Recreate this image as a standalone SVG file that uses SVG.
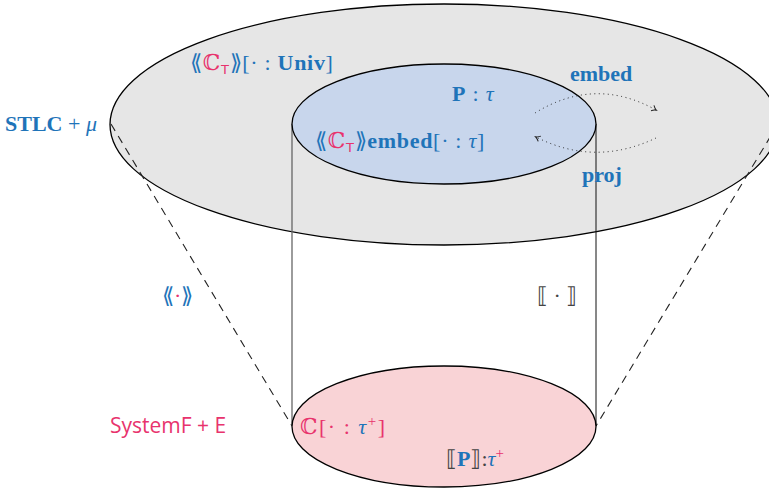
<svg xmlns="http://www.w3.org/2000/svg" width="769" height="491" viewBox="0 0 769 491">
<style>
.t{font-family:"Liberation Serif","DejaVu Serif",serif;font-size:22px;fill:#1f74b9}
.b{font-weight:bold}
.i{font-style:italic}
.pk{fill:#e8336d}
.dk{fill:#444}
.sans{font-family:"Linux Biolinum","Open Sans","DejaVu Sans",sans-serif;fill:#e8336d;font-size:21px}
.sub{font-family:"DejaVu Sans",sans-serif;font-size:13px}
.dash{stroke:#222;stroke-width:1.1;fill:none;stroke-dasharray:8 6}
.dot{stroke:#222;stroke-width:1;fill:none;stroke-dasharray:1 3.5}
</style>
<defs>
<marker id="ah" markerWidth="8" markerHeight="8" refX="5" refY="4" orient="auto" markerUnits="userSpaceOnUse">
<path d="M1,1 Q3,3.2 5.5,4 Q3,4.8 1,7" fill="none" stroke="#222" stroke-width="1"/>
</marker>
</defs>
<rect width="769" height="491" fill="#fff"/>
<g id="outer">
<ellipse cx="444" cy="124.5" rx="334" ry="120.5" fill="#e6e6e6" stroke="#000" stroke-width="1.3"/>
</g>
<g id="connectors">
<line class="dash" x1="111" y1="124" x2="292" y2="426"/>
<line class="dash" x1="778" y1="124" x2="596" y2="426"/>
<line x1="292" y1="124" x2="292" y2="426" stroke="#666" stroke-width="1.3"/>
<line x1="596" y1="124" x2="596" y2="426" stroke="#111" stroke-width="1"/>
</g>
<g id="inner">
<ellipse cx="444" cy="124" rx="152" ry="60" fill="#c8d6ec" stroke="#000" stroke-width="1.3"/>
</g>
<g id="bottom">
<ellipse cx="444" cy="426.5" rx="152" ry="60.5" fill="#f9d3d6" stroke="#000" stroke-width="1.3"/>
</g>
<g id="arrows">
<path class="dot" d="M535,113 Q595,76 656,110" marker-end="url(#ah)"/>
<path class="dot" d="M656,138 Q595,167 536,137" marker-end="url(#ah)"/>
</g>
<g id="labels">
<text class="t" x="190" y="70" letter-spacing="0.7">⟪<tspan class="pk">ℂ</tspan><tspan class="pk sub" dy="4">T</tspan><tspan dy="-4">⟫[· : </tspan><tspan class="b">Univ</tspan>]</text>
<text class="t" x="452" y="101" letter-spacing="0.8"><tspan class="b">P</tspan> : <tspan class="i">τ</tspan></text>
<text class="t" x="315" y="148" letter-spacing="0.7">⟪<tspan class="pk">ℂ</tspan><tspan class="pk sub" dy="4">T</tspan><tspan dy="-4">⟫</tspan><tspan class="b">embed</tspan>[· : <tspan class="i">τ</tspan>]</text>
<text class="t b" x="570" y="81">embed</text>
<text class="t b" x="582" y="182">proj</text>
<text class="t" x="5" y="131"><tspan class="b">STLC</tspan> + <tspan class="i">μ</tspan></text>
<text class="t" x="162" y="303">⟪<tspan class="pk">·</tspan>⟫</text>
<text class="t dk" x="537" y="303">⟦ · ⟧</text>
<text class="sans" x="110" y="433">SystemF + E</text>
<text class="t pk" x="300" y="434" letter-spacing="1.5">ℂ[<tspan>· : </tspan><tspan class="i" style="fill:#1f74b9">τ</tspan><tspan dy="-8" font-size="15">+</tspan><tspan dy="8">]</tspan></text>
<text class="t dk" x="446" y="466">⟦<tspan class="b" style="fill:#1f74b9">P</tspan>⟧:<tspan class="i" style="fill:#1f74b9">τ</tspan><tspan class="pk" dy="-8" font-size="15">+</tspan></text>
</g>
</svg>
